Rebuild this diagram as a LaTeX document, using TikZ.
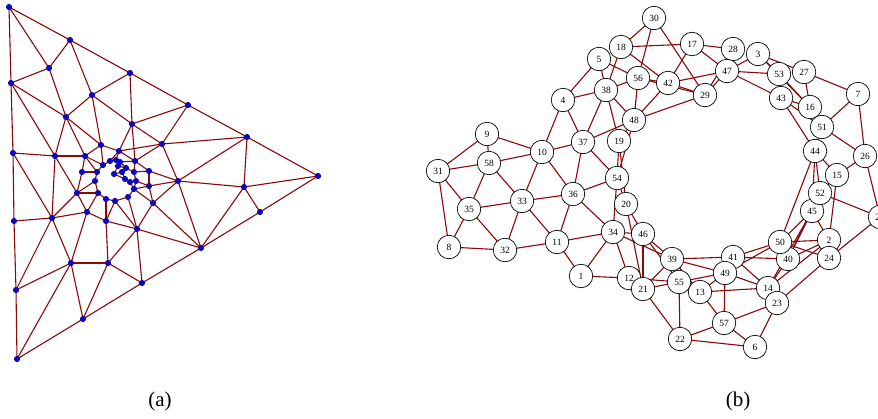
\documentclass[tikz,border=0pt]{standalone}
\usepackage{fontspec}
\setmainfont{Liberation Serif}
\pgfdeclarelayer{bg}
\pgfsetlayers{bg,main}
\definecolor{edgecol}{RGB}{139,8,8}
\definecolor{dotcol}{RGB}{10,10,185}
\begin{document}
\begin{tikzpicture}[x=1pt,y=-1pt,
  edge/.style={draw=edgecol,line width=1.1pt},
  dot/.style={circle,fill=dotcol,inner sep=0pt,minimum size=6.2pt},
  vtx/.style={circle,draw=black,fill=white,line width=0.7pt,inner sep=0pt,minimum size=23.5pt,font=\fontsize{9.5}{9.5}\selectfont},
  captext/.style={font=\fontsize{21}{21}\selectfont}]
\useasboundingbox (0,0) rectangle (878,418);
\clip (0,0) rectangle (878,418);
% ---------- (a) ----------
\foreach \n/\x/\y in {A/9/7,B/70/40,C/49/68,D/11/83,E/130/73,F/92/95,G/188/105,H/66/117,I/132/124,J/247/137,K/162/144,L/101/145,M/13/153,N/55/156,O/85/156,P/318/176,Q/178/181,R/244/187,S/260/212,T/153/203,U/52/218,V/14/221,W/87/212,X/106/221,Y/137/229,Z/201/248,a1/71/263,a2/108/263,a3/16/290,a4/142/283,a5/83/319,a6/17/359,
 i1/82/172,i2/97/172,i3/95/181,i4/77/193,i5/98/193,i6/106/199,i7/115/201,i8/128/197,i9/134/189,i10/149/171,i11/149/186,i12/103/165,i13/110/161,i14/116/160,i15/119/151,i16/120/162,i17/118/166,i18/135/161,i19/126/168,i20/122/172,i21/134/172,i22/114/174,i23/125/179,i24/130/182,i25/136/181}
  \node[dot] (\n) at (\x,\y) {};
\begin{pgfonlayer}{bg}
\foreach \a/\b in {A/B,B/E,E/G,G/J,J/P,P/S,S/Z,Z/a4,a4/a5,a5/a6,a6/a3,a3/V,V/M,M/D,D/A,
 A/C,B/C,C/D,C/H,B/F,D/H,D/N,H/N,M/N,E/F,F/H,F/L,F/I,E/I,G/I,G/K,J/K,J/Q,J/R,R/P,R/S,Q/R,R/Z,Q/Z,I/K,K/Q,
 H/L,H/O,L/O,N/O,N/U,M/U,V/U,U/a3,U/a1,a3/a1,a1/a6,a1/a5,a1/a2,a2/a5,a2/a4,a2/Y,a2/X,Y/a4,Y/Z,T/Z,T/Y,Q/T,
 W/X,W/U,W/a1,X/Y,
 i1/i2,i1/i4,i1/O,N/i4,U/i4,i2/i3,i2/i12,i2/O,i3/i4,i3/i5,i4/i5,i4/W,i5/W,i5/i6,i6/X,i6/i7,i7/X,i7/Y,i7/i8,i8/Y,i8/i9,i9/T,i9/i11,i9/i25,i9/i24,
 i10/i11,i10/i18,i10/i21,i11/i25,i11/T,i12/i13,i12/L,i12/O,i13/i14,i13/i15,i14/i15,i14/i16,i15/i18,i15/L,i15/I,i15/K,
 i16/i17,i16/i18,i16/i19,i17/i22,i17/i19,i18/i21,i18/I,i18/K,i19/i20,i19/i21,i20/i22,i20/i23,i21/i25,i22/i23,i23/i24,i24/i25,i10/Q,i11/Q}
  \draw[edge] (\a.center) -- (\b.center);
\end{pgfonlayer}
% ---------- (b) ----------
\foreach \n/\x/\y in {1/581/276,2/829/240,3/758/54,4/563/100,5/599/59,6/755/347,7/858/94,8/449/247,9/487/134,10/542/152,11/557/242,12/629/278,13/700/292,14/768/288,15/837/175,16/810/107,17/692/44,18/621/47,19/619/141,20/626/204,21/643/289,22/680/339,23/777/303,24/829/258,25/880/217,26/865/156,27/804/72,28/733/49,29/705/95,30/654/18,31/438/171,32/505/250,33/522/201,34/613/232,35/469/209,36/573/194,37/583/142,38/606/90,39/672/259,40/788/259,41/733/257,42/668/83,43/781/98,44/815/151,45/812/211,46/643/234,47/727/71,48/634/120,49/725/273,50/780/242,51/822/127,52/820/193,53/779/74,54/617/178,55/679/282,56/638/78,57/724/323,58/489/163}
  \node[vtx] (r\n) at (\x,\y) {\n};
\begin{pgfonlayer}{bg}
\foreach \a/\b in {31/9,31/58,31/35,31/8,9/58,9/10,58/10,58/35,58/33,10/4,10/37,10/36,10/33,4/5,4/38,4/37,5/38,5/56,
 18/30,18/17,18/38,18/42,30/56,30/29,17/42,17/28,17/47,38/56,38/48,38/37,38/19,56/42,56/48,56/29,42/29,42/47,42/48,
 48/29,48/37,48/19,48/54,47/29,28/29,47/3,47/53,47/43,3/53,3/27,3/16,53/16,27/16,27/7,43/16,43/44,43/51,16/51,7/51,
 7/26,51/26,51/44,44/15,44/52,44/45,44/50,52/40,15/26,15/2,15/52,52/25,52/45,26/25,45/2,45/50,45/40,45/14,50/24,50/41,
 50/49,50/2,40/2,40/41,40/14,2/14,24/25,24/23,23/14,23/57,23/6,14/41,14/49,14/13,41/39,41/49,49/39,49/55,49/13,49/57,
 39/46,39/55,39/21,39/34,39/13,55/12,55/21,55/22,55/46,13/57,57/22,57/6,22/6,21/22,46/34,46/20,46/21,20/54,20/19,20/21,
 54/19,54/37,54/36,54/34,34/36,34/11,34/1,34/12,36/37,36/11,36/33,33/35,33/32,33/11,35/8,35/32,8/32,32/11,11/1,1/12,12/21}
  \draw[edge] (r\a.center) -- (r\b.center);
\end{pgfonlayer}
% captions
\node[captext] (capa) at (160,401) {(a)};
\node[captext] (capb) at (738,401) {(b)};
\end{tikzpicture}
\end{document}
